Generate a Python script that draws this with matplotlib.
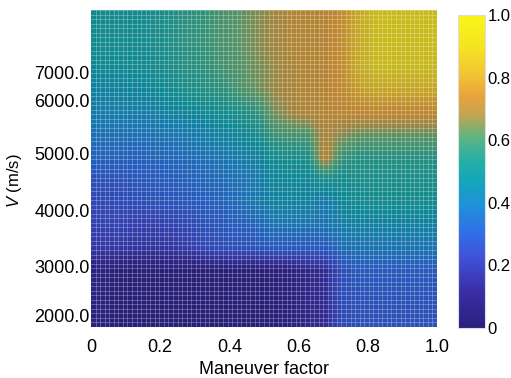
import numpy as np
import matplotlib
matplotlib.use("Agg")
import matplotlib.pyplot as plt
from matplotlib.colors import LinearSegmentedColormap

plt.rcParams['font.family'] = ['Liberation Sans', 'DejaVu Sans']
plt.rcParams['mathtext.fontset'] = 'custom'
plt.rcParams['mathtext.it'] = 'Liberation Sans:italic'
plt.rcParams['mathtext.rm'] = 'Liberation Sans'

# normalised value, 20 columns (maneuver factor 0 -> 1), 14 rows (top -> bottom)
values = [
    [0.50, 0.50, 0.50, 0.51, 0.53, 0.56, 0.57, 0.60, 0.62, 0.65, 0.68, 0.71, 0.72, 0.72, 0.76, 0.84, 0.90, 0.90, 0.90, 0.90],
    [0.50, 0.50, 0.50, 0.51, 0.53, 0.56, 0.57, 0.60, 0.62, 0.65, 0.68, 0.71, 0.72, 0.72, 0.76, 0.84, 0.90, 0.90, 0.90, 0.90],
    [0.48, 0.48, 0.49, 0.50, 0.52, 0.55, 0.56, 0.59, 0.61, 0.64, 0.67, 0.70, 0.72, 0.72, 0.76, 0.84, 0.89, 0.89, 0.89, 0.89],
    [0.45, 0.45, 0.46, 0.47, 0.50, 0.52, 0.55, 0.56, 0.60, 0.63, 0.67, 0.70, 0.72, 0.72, 0.75, 0.80, 0.83, 0.83, 0.83, 0.83],
    [0.42, 0.42, 0.42, 0.43, 0.45, 0.46, 0.48, 0.50, 0.53, 0.56, 0.64, 0.68, 0.71, 0.72, 0.73, 0.74, 0.74, 0.74, 0.74, 0.74],
    [0.37, 0.37, 0.37, 0.38, 0.39, 0.40, 0.42, 0.45, 0.47, 0.50, 0.58, 0.60, 0.60, 0.70, 0.66, 0.63, 0.63, 0.63, 0.63, 0.63],
    [0.33, 0.33, 0.32, 0.33, 0.34, 0.35, 0.37, 0.39, 0.41, 0.44, 0.50, 0.52, 0.52, 0.72, 0.58, 0.55, 0.55, 0.55, 0.55, 0.55],
    [0.27, 0.27, 0.29, 0.30, 0.31, 0.32, 0.34, 0.35, 0.37, 0.40, 0.46, 0.47, 0.47, 0.52, 0.50, 0.52, 0.52, 0.52, 0.52, 0.52],
    [0.24, 0.25, 0.26, 0.27, 0.28, 0.29, 0.31, 0.33, 0.36, 0.40, 0.44, 0.45, 0.45, 0.40, 0.47, 0.50, 0.50, 0.50, 0.50, 0.50],
    [0.22, 0.23, 0.21, 0.21, 0.22, 0.24, 0.27, 0.29, 0.31, 0.33, 0.38, 0.38, 0.38, 0.38, 0.42, 0.44, 0.44, 0.44, 0.44, 0.44],
    [0.19, 0.19, 0.18, 0.18, 0.18, 0.20, 0.24, 0.26, 0.27, 0.28, 0.30, 0.30, 0.30, 0.30, 0.36, 0.38, 0.38, 0.38, 0.38, 0.38],
    [0.09, 0.06, 0.06, 0.06, 0.06, 0.06, 0.06, 0.06, 0.06, 0.06, 0.06, 0.08, 0.12, 0.14, 0.26, 0.30, 0.30, 0.30, 0.30, 0.30],
    [0.09, 0.06, 0.06, 0.06, 0.06, 0.06, 0.06, 0.06, 0.06, 0.06, 0.06, 0.08, 0.12, 0.14, 0.26, 0.28, 0.28, 0.28, 0.28, 0.28],
    [0.09, 0.06, 0.06, 0.06, 0.06, 0.06, 0.06, 0.06, 0.06, 0.06, 0.06, 0.08, 0.12, 0.14, 0.25, 0.27, 0.27, 0.27, 0.27, 0.27],
]

x_ticks = [0, 0.2, 0.4, 0.6, 0.8, 1.0]
x_labels = ['0', '0.2', '0.4', '0.6', '0.8', '1.0']
v_labels = ['2000.0', '3000.0', '4000.0', '5000.0', '6000.0', '7000.0']
v_pos = [0.035, 0.192, 0.369, 0.546, 0.713, 0.804]   # where the labels sit on the axis
cb_ticks = [0, 0.2, 0.4, 0.6, 0.8, 1.0]
cb_labels = ['0', '0.2', '0.4', '0.6', '0.8', '1.0']

# parula-like map
cmap = LinearSegmentedColormap.from_list('par', [
    (0.00, '#2a1f7c'), (0.12, '#3a2fa8'), (0.22, '#4050d8'), (0.31, '#2f72e8'),
    (0.40, '#1e94d6'), (0.48, '#12a8b6'), (0.55, '#2eb1a0'), (0.62, '#6ab47c'),
    (0.68, '#c2a550'), (0.74, '#eaa23c'), (0.82, '#f2c832'), (0.90, '#f5e422'),
    (1.00, '#f8f518')])

fig = plt.figure(figsize=(5.11, 3.78), dpi=100)
ax = fig.add_axes([91/511, 51/378, 346/511, 317/378])
cax = fig.add_axes([458/511, 50/378, 27/511, 313/378])

ax.set_facecolor('black')
im = ax.imshow(np.array(values), cmap=cmap, vmin=0, vmax=1, origin='upper',
               extent=[0, 1, 0, 1], aspect='auto', interpolation='bilinear', alpha=0.82)
# fine mesh lines
ax.set_xticks(np.linspace(0, 1, 77), minor=True)
ax.set_yticks(np.linspace(0, 1, 71), minor=True)
ax.grid(which='minor', color='white', lw=0.6, alpha=0.3)
ax.tick_params(which='minor', length=0)

ax.set_xlim(0, 1)
ax.set_ylim(0, 1)
ax.set_xticks(x_ticks)
ax.set_xticklabels(x_labels)
ax.set_yticks(v_pos)
ax.set_yticklabels(v_labels)
ax.tick_params(which='major', length=0, labelsize=13)
ax.tick_params(axis='x', pad=9)
ax.tick_params(axis='y', pad=1)
for s in ax.spines.values():
    s.set_visible(False)

ax.set_xlabel('Maneuver factor', fontsize=13, labelpad=3)
ax.set_ylabel('$\\mathit{V}$ (m/s)', fontsize=12)
ax.yaxis.set_label_coords(-0.195, 0.46)

cb = fig.colorbar(im, cax=cax)
cb.solids.set_alpha(1)
cb.set_ticks(cb_ticks)
cb.set_ticklabels(cb_labels)
cb.ax.tick_params(length=0, labelsize=12, pad=2)
cb.outline.set_edgecolor('#dddddd')
cb.outline.set_linewidth(0.8)

fig.savefig('out.png', dpi=100)
